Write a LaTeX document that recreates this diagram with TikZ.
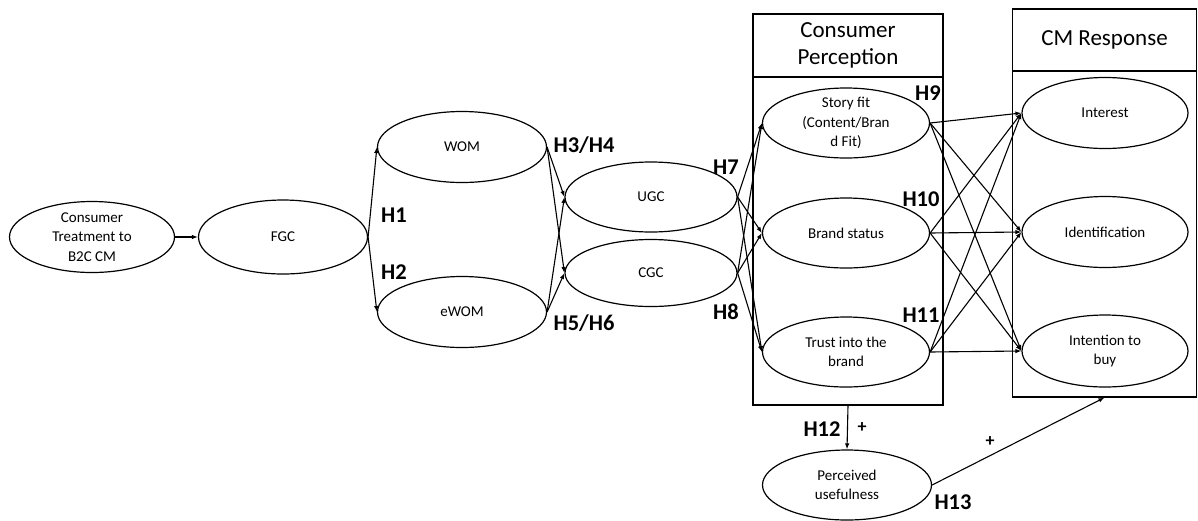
\documentclass[tikz,border=0pt]{standalone}
\usepackage{fontspec}
\setmainfont{Carlito}
\usetikzlibrary{shapes.geometric,arrows.meta}

\begin{document}
\begin{tikzpicture}[x=1pt,y=-1pt,
  construct/.style={ellipse, draw, line width=1.2pt, minimum width=169pt,
    minimum height=71pt, inner xsep=0pt, inner ysep=-12pt, align=center,
    font=\fontsize{15}{19.5}\selectfont},
  frame/.style={draw, rectangle, line width=1.2pt, inner sep=0pt},
  header/.style={frame, align=center, font=\fontsize{23}{27}\selectfont},
  hyp/.style={font=\fontsize{22.5}{25}\selectfont\bfseries, inner sep=0pt},
  sign/.style={font=\fontsize{18}{20}\selectfont\bfseries, inner sep=0pt},
  link/.style={-{Latex[length=6pt,width=4.5pt]}, line width=1.1pt}]

\useasboundingbox (0,0) rectangle (1198,520);

% group frames with their title bars
\node[frame, minimum width=190pt, minimum height=391pt] (cpbox) at (848,209.5) {};
\node[header, minimum width=190pt, minimum height=63pt, anchor=north] (cphead)
  at (cpbox.north) {Consumer\\Perception};
\node[frame, minimum width=184pt, minimum height=388pt] (cmbox) at (1104.5,203) {};
\node[header, minimum width=184pt, minimum height=62pt, anchor=north] (cmhead)
  at (cmbox.north) {CM Response};

% constructs
\node[construct, minimum width=165pt] (ct) at (92,237) {Consumer\\Treatment to\\B2C CM};
\node[construct, minimum height=74pt] (fgc) at (283,237) {FGC};
\node[construct] (wom) at (462,147) {WOM};
\node[construct] (ewom) at (462,312) {eWOM};
\node[construct, minimum width=172pt, minimum height=70pt] (ugc) at (651,197) {UGC};
\node[construct, minimum width=172pt, minimum height=67pt] (cgc) at (651,273) {CGC};
\node[construct, minimum width=167pt, minimum height=70pt] (story) at (846,123) {Story fit\\(Content/Bran\\d Fit)};
\node[construct, minimum width=167pt, minimum height=70pt] (status) at (846,233) {Brand status};
\node[construct, minimum width=167pt, minimum height=70pt] (trust) at (846,352) {Trust into the\\brand};
\node[construct, minimum width=166pt] (interest) at (1105,113) {Interest};
\node[construct, minimum width=166pt] (ident) at (1105,232) {Identification};
\node[construct, minimum width=166pt, minimum height=72pt] (intent) at (1105,351) {Intention to\\buy};
\node[construct, minimum width=169pt, minimum height=70pt] (pu) at (847,485) {Perceived\\usefulness};

% paths
\draw[link] (ct.east) -- (fgc.west);
\draw[link] (fgc.east) -- (wom.west);
\draw[link] (fgc.east) -- (ewom.west);
\foreach \s in {wom,ewom}
  \foreach \t in {ugc,cgc}
    \draw[link] (\s.east) -- (\t.west);
\foreach \s in {ugc,cgc}
  \foreach \t in {story,status,trust}
    \draw[link] (\s.east) -- (\t.west);
\foreach \s in {story,status,trust}
  \foreach \t in {interest,ident,intent}
    \draw[link] (\s.east) -- (\t.west);
\draw[link] (cpbox.south) -- (pu.north);
\draw[link] (pu.east) -- (cmbox.south);

% hypothesis labels
\node[hyp] (h1) at (394,215) {H1};
\node[hyp] (h2) at (394,272) {H2};
\node[hyp] (h34) at (584,145) {H3/H4};
\node[hyp] (h56) at (584,323) {H5/H6};
\node[hyp] (h7) at (726,167) {H7};
\node[hyp] (h8) at (726,312) {H8};
\node[hyp] (h9) at (928,93) {H9};
\node[hyp] (h10) at (921,199) {H10};
\node[hyp] (h11) at (921,315) {H11};
\node[hyp] (h12) at (822,429) {H12};
\node[sign] (p12) at (862,428) {+};
\node[sign] (p13) at (990,442) {+};
\node[hyp] (h13) at (953,502) {H13};
\end{tikzpicture}
\end{document}
